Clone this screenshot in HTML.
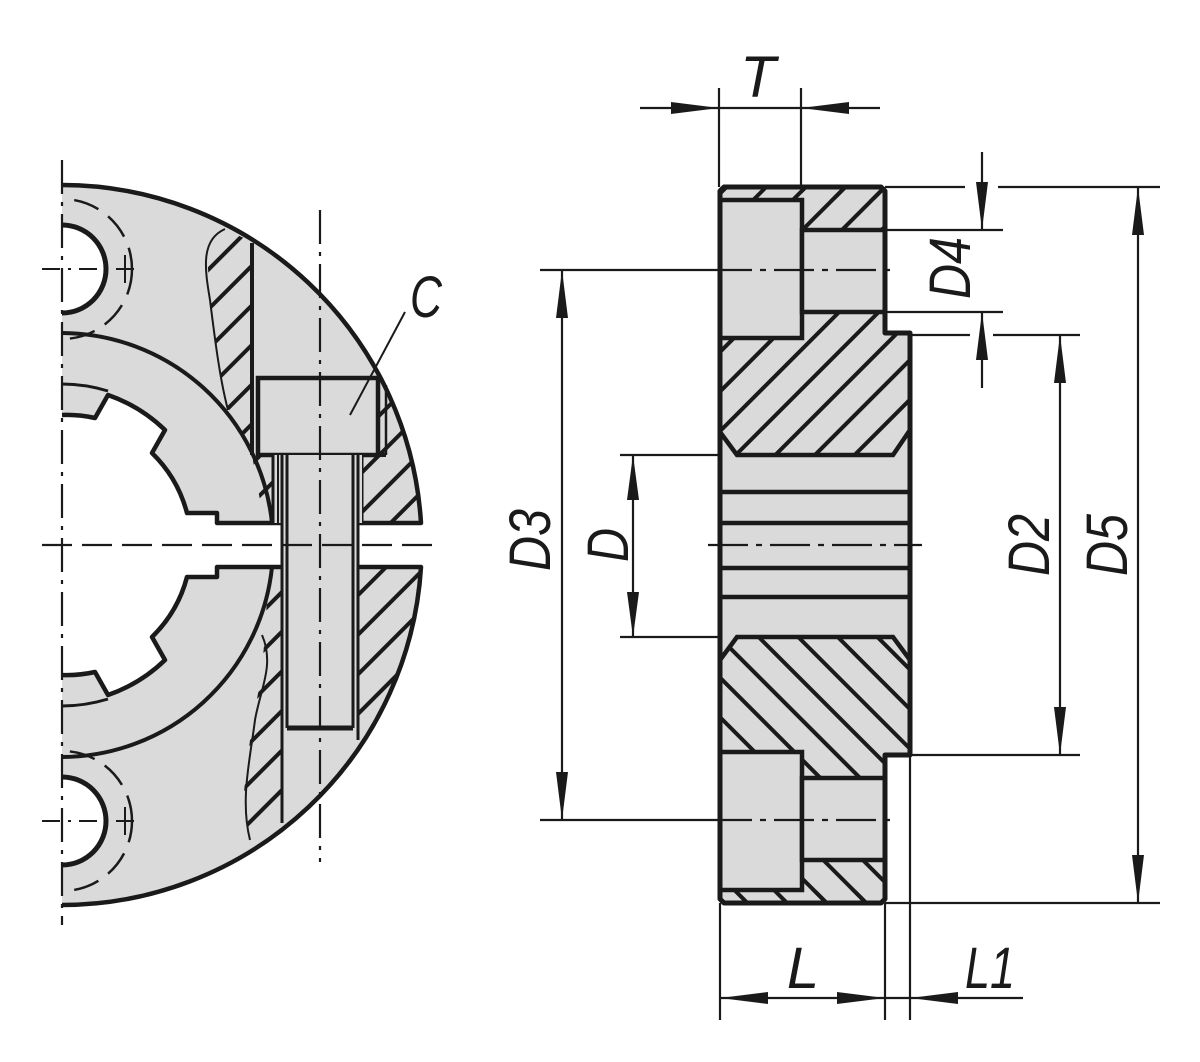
<!DOCTYPE html>
<html><head><meta charset="utf-8"><style>
html,body{margin:0;padding:0;background:#fff}
svg{display:block}
text{font-family:"Liberation Sans",sans-serif;font-style:italic;fill:#1a1a1a}
</style></head><body>
<svg width="1200" height="1062" viewBox="0 0 1200 1062" xmlns="http://www.w3.org/2000/svg">
<defs>
<pattern id="hs" patternUnits="userSpaceOnUse" width="28" height="28" patternTransform="rotate(45)"><line x1="2" y1="0" x2="2" y2="28" stroke="#1a1a1a" stroke-width="4"/></pattern>
<pattern id="hb" patternUnits="userSpaceOnUse" width="28" height="28" patternTransform="rotate(-45)"><line x1="2" y1="0" x2="2" y2="28" stroke="#1a1a1a" stroke-width="4"/></pattern>
<clipPath id="circ"><circle cx="62" cy="545" r="358"/></clipPath>
<g id="halfdisk">
<path d="M62,185 A360,360 0 0 1 421,523 L217,523 L217,513 L187,513 A130,130 0 0 0 152,453 L165,430 A155,155 0 0 0 108,395 L95,418 A130,130 0 0 0 62,415 L62,313 A44,44 0 0 0 62,225 Z" fill="#dadada" stroke="none"/>
<path d="M62,185 A360,360 0 0 1 421,523 L217,523 L217,513 L187,513 A130,130 0 0 0 152,453 L165,430 A155,155 0 0 0 108,395 L95,418 A130,130 0 0 0 62,415" fill="none" stroke="#1a1a1a" stroke-width="4.5" stroke-linejoin="round"/>
<path d="M62,313 A44,44 0 0 0 62,225" fill="none" stroke="#1a1a1a" stroke-width="5"/>
<path d="M62,333 A212,212 0 0 1 272,523" fill="none" stroke="#1a1a1a" stroke-width="4"/>
<path d="M62,384 A160,160 0 0 1 108,391" fill="none" stroke="#1a1a1a" stroke-width="3"/>
<circle cx="62" cy="269" r="70" fill="none" stroke="#1a1a1a" stroke-width="2.5" stroke-dasharray="26,12" clip-path="url(#rightof)"/>
<line x1="42" y1="269" x2="140" y2="269" stroke="#1a1a1a" stroke-width="2" stroke-dasharray="18,8,3,8"/>
<line x1="125" y1="255" x2="125" y2="283" stroke="#1a1a1a" stroke-width="2"/>
</g>
<clipPath id="rightof"><rect x="64" y="0" width="400" height="1062"/></clipPath>
</defs>

<!-- LEFT VIEW -->
<use href="#halfdisk"/>
<use href="#halfdisk" transform="translate(0,1090) scale(1,-1)"/>

<!-- top hatch A -->
<polygon points="225,229 207,253 210,300 218,360 223,395 232,418 245,442 252,455 252,242" fill="url(#hs)"/>
<path d="M225,229 C200,240 205,270 210,300 C215,340 220,380 228,410" fill="none" stroke="#1a1a1a" stroke-width="2"/>
<polygon points="252,455 273,455 273,523 264,523" fill="url(#hs)"/>
<line x1="252" y1="243" x2="252" y2="455" stroke="#1a1a1a" stroke-width="4"/>
<!-- top hatch B -->
<g clip-path="url(#circ)"><rect x="362" y="378" width="70" height="145" fill="url(#hs)"/></g>
<!-- bolt head -->
<rect x="258" y="378" width="120" height="77" fill="#dadada" stroke="#1a1a1a" stroke-width="4.5"/>
<line x1="386" y1="385" x2="386" y2="455" stroke="#1a1a1a" stroke-width="2.5"/>
<line x1="378" y1="455" x2="386" y2="455" stroke="#1a1a1a" stroke-width="4"/>
<line x1="362" y1="455" x2="362" y2="523" stroke="#1a1a1a" stroke-width="3"/>
<!-- shank top -->
<rect x="273" y="455" width="89" height="68" fill="#dadada"/>
<rect x="282" y="520" width="76" height="50" fill="#dadada"/>
<!-- bottom hatch C -->
<g clip-path="url(#circ)"><rect x="358" y="567" width="75" height="173" fill="url(#hs)"/></g>
<!-- bottom hatch D -->
<polygon points="268,567 282,567 282,823 250,838 243,800 250,740 262,670 266,620" fill="url(#hs)"/>
<path d="M262,635 C275,665 260,690 255,720 C250,760 240,800 250,840" fill="none" stroke="#1a1a1a" stroke-width="2"/>
<rect x="287" y="567" width="66" height="161" fill="#dadada"/>
<rect x="287" y="728" width="71" height="12" fill="#dadada"/>
<!-- shank lines -->
<g stroke="#1a1a1a" fill="none">
<line x1="273" y1="455" x2="273" y2="523" stroke-width="3"/>
<line x1="278" y1="455" x2="278" y2="523" stroke-width="2"/>
<line x1="282" y1="455" x2="282" y2="823" stroke-width="3"/>
<line x1="287" y1="455" x2="287" y2="728" stroke-width="3"/>
<line x1="353" y1="455" x2="353" y2="728" stroke-width="3"/>
<line x1="358" y1="455" x2="358" y2="740" stroke-width="3"/>
<line x1="287" y1="728" x2="353" y2="728" stroke-width="5"/>
</g>
<!-- centerlines left -->
<g stroke="#1a1a1a" stroke-width="2.2" fill="none">
<line x1="62" y1="160" x2="62" y2="925" stroke-dasharray="34,8,4,8"/>
<line x1="320" y1="210" x2="320" y2="862" stroke-dasharray="34,8,4,8"/>
<line x1="42" y1="545" x2="442" y2="545" stroke-dasharray="30,10"/>
</g>
<!-- C label -->
<line x1="350" y1="415" x2="405" y2="312" stroke="#1a1a1a" stroke-width="2"/>
<text x="410" y="317" font-size="58" textLength="32" lengthAdjust="spacingAndGlyphs">C</text>

<!-- RIGHT VIEW -->
<path d="M724,187 H881 L885,191 V333 H910 V755 H885 V899 L881,903 H724 L720,899 V191 Z" fill="#dadada"/>
<!-- hatches -->
<rect x="720" y="187" width="165" height="13" fill="url(#hs)"/>
<rect x="802" y="187" width="83" height="43" fill="url(#hs)"/>
<polygon points="720,338 802,338 802,312 885,312 885,333 910,333 910,430 893,455 737,455 720,432" fill="url(#hs)"/>
<polygon points="720,660 737,637 893,637 910,660 910,755 885,755 885,778 802,778 802,752 720,752" fill="url(#hb)"/>
<rect x="720" y="890" width="165" height="13" fill="url(#hb)"/>
<rect x="802" y="860" width="83" height="43" fill="url(#hb)"/>
<!-- gray pockets -->
<g fill="#dadada" stroke="#1a1a1a" stroke-width="4.5">
<rect x="720" y="200" width="82" height="138"/>
<rect x="802" y="230" width="83" height="82"/>
<rect x="720" y="752" width="82" height="138"/>
<rect x="802" y="778" width="83" height="82"/>
</g>
<!-- outline -->
<path d="M724,187 H881 L885,191 V333 H910 V755 H885 V899 L881,903 H724 L720,899 V191 Z" fill="none" stroke="#1a1a1a" stroke-width="5" stroke-linejoin="round"/>
<path d="M720,432 L737,455 H893 L910,430 M720,660 L737,637 H893 L910,660" fill="none" stroke="#1a1a1a" stroke-width="4.5"/>
<g stroke="#1a1a1a" stroke-width="4.5">
<line x1="720" y1="492" x2="910" y2="492"/>
<line x1="720" y1="523" x2="910" y2="523"/>
<line x1="720" y1="568" x2="910" y2="568"/>
<line x1="720" y1="597" x2="910" y2="597"/>
</g>
<g stroke="#1a1a1a" stroke-width="2.2" stroke-dasharray="40,8,6,8">
<line x1="708" y1="545" x2="922" y2="545"/>
<line x1="712" y1="270" x2="894" y2="270"/>
<line x1="712" y1="820" x2="894" y2="820"/>
</g>

<!-- dimension lines -->
<g stroke="#1a1a1a" stroke-width="2.2" fill="none">
<line x1="540" y1="270" x2="712" y2="270"/>
<line x1="540" y1="820" x2="712" y2="820"/>
<line x1="620" y1="455" x2="720" y2="455"/>
<line x1="620" y1="637" x2="720" y2="637"/>
<line x1="562" y1="270" x2="562" y2="820"/>
<line x1="633" y1="455" x2="633" y2="637"/>
<line x1="719" y1="88" x2="719" y2="187"/>
<line x1="801" y1="88" x2="801" y2="187"/>
<line x1="640" y1="108" x2="880" y2="108"/>
<line x1="885" y1="187" x2="965" y2="187"/>
<line x1="998" y1="187" x2="1160" y2="187"/>
<line x1="885" y1="230" x2="1003" y2="230"/>
<line x1="885" y1="312" x2="1003" y2="312"/>
<line x1="910" y1="335" x2="970" y2="335"/>
<line x1="993" y1="335" x2="1080" y2="335"/>
<line x1="910" y1="755" x2="1080" y2="755"/>
<line x1="885" y1="903" x2="1160" y2="903"/>
<line x1="982" y1="152" x2="982" y2="230"/>
<line x1="982" y1="312" x2="982" y2="388"/>
<line x1="1060" y1="335" x2="1060" y2="755"/>
<line x1="1138" y1="187" x2="1138" y2="903"/>
<line x1="720" y1="903" x2="720" y2="1020"/>
<line x1="885" y1="903" x2="885" y2="1020"/>
<line x1="910" y1="755" x2="910" y2="1020"/>
<line x1="720" y1="998" x2="1023" y2="998"/>
</g>
<g fill="#1a1a1a">
<polygon points="562,270 556,318 568,318"/><polygon points="562,820 556,772 568,772"/>
<polygon points="633,455 627,500 639,500"/><polygon points="633,637 627,592 639,592"/>
<polygon points="719,108 671,102 671,114"/><polygon points="801,108 849,102 849,114"/>
<polygon points="982,230 976,182 988,182"/><polygon points="982,312 976,360 988,360"/>
<polygon points="1060,335 1054,383 1066,383"/><polygon points="1060,755 1054,707 1066,707"/>
<polygon points="1138,187 1132,235 1144,235"/><polygon points="1138,903 1132,855 1144,855"/>
<polygon points="720,998 768,992 768,1004"/><polygon points="885,998 837,992 837,1004"/>
<polygon points="910,998 958,992 958,1004"/>
</g>
<!-- labels -->
<text x="758" y="97" font-size="58" text-anchor="middle">T</text>
<text x="803" y="988" font-size="58" text-anchor="middle">L</text>
<text x="990" y="988" font-size="58" text-anchor="middle" textLength="50" lengthAdjust="spacingAndGlyphs">L1</text>
<text transform="translate(550,540) rotate(-90)" font-size="58" text-anchor="middle" textLength="62" lengthAdjust="spacingAndGlyphs">D3</text>
<text transform="translate(628,545) rotate(-90)" font-size="58" text-anchor="middle" textLength="34" lengthAdjust="spacingAndGlyphs">D</text>
<text transform="translate(970,268) rotate(-90)" font-size="58" text-anchor="middle" textLength="62" lengthAdjust="spacingAndGlyphs">D4</text>
<text transform="translate(1049,545) rotate(-90)" font-size="58" text-anchor="middle" textLength="62" lengthAdjust="spacingAndGlyphs">D2</text>
<text transform="translate(1127,545) rotate(-90)" font-size="58" text-anchor="middle" textLength="62" lengthAdjust="spacingAndGlyphs">D5</text>
</svg>
</body></html>
